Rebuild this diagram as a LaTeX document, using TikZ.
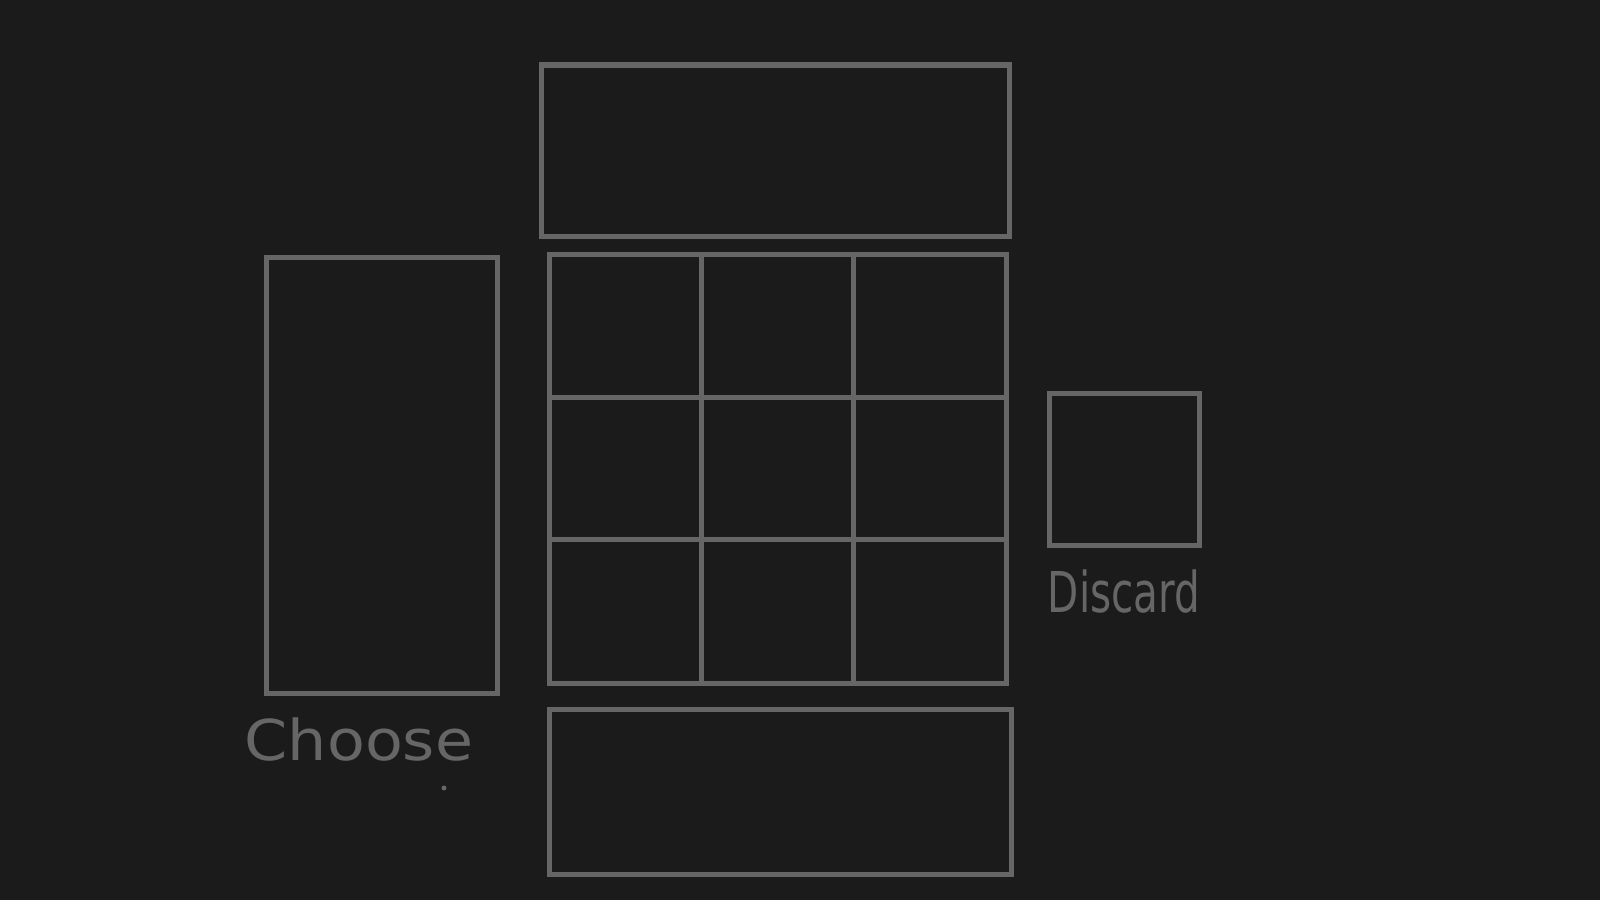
\documentclass[tikz,border=0pt]{standalone}
\usepackage{fontspec}
\setmainfont{DejaVu Sans}
\definecolor{bg}{HTML}{1B1B1B}
\definecolor{ink}{HTML}{666666}
\begin{document}
\begin{tikzpicture}[x=0.01cm,y=-0.01cm,
  sketch/.style={draw=ink,line width=0.05cm},
  label/.style={text=ink,inner sep=0pt}]
\fill[bg] (0,0) rectangle (1600,900);
\useasboundingbox (0,0) rectangle (1600,900);
% top box
\draw[sketch] (541,65) rectangle (1009,236);
% left tall box
\draw[sketch] (266,257) rectangle (497,693);
% grid
\draw[sketch] (549,254) rectangle (1006,683);
\draw[sketch] (701,254) -- (701,683);
\draw[sketch] (853,254) -- (853,686);
\draw[sketch] (549,397) -- (1006,397);
\draw[sketch] (549,539) -- (1006,539);
% bottom box
\draw[sketch] (549,709) rectangle (1011,874);
% discard box
\draw[sketch] (1049,393) rectangle (1199,545);
% labels
\node[label,font=\fontsize{16}{19}\selectfont,xscale=1.1,transform shape] (choose) at (359,740) {Choose};
\node[label,font=\fontsize{16}{19}\selectfont,xscale=0.72,transform shape] (discard) at (1124,592) {Discard};
\fill[ink] (444,788) circle (2.5);
\end{tikzpicture}
\end{document}
